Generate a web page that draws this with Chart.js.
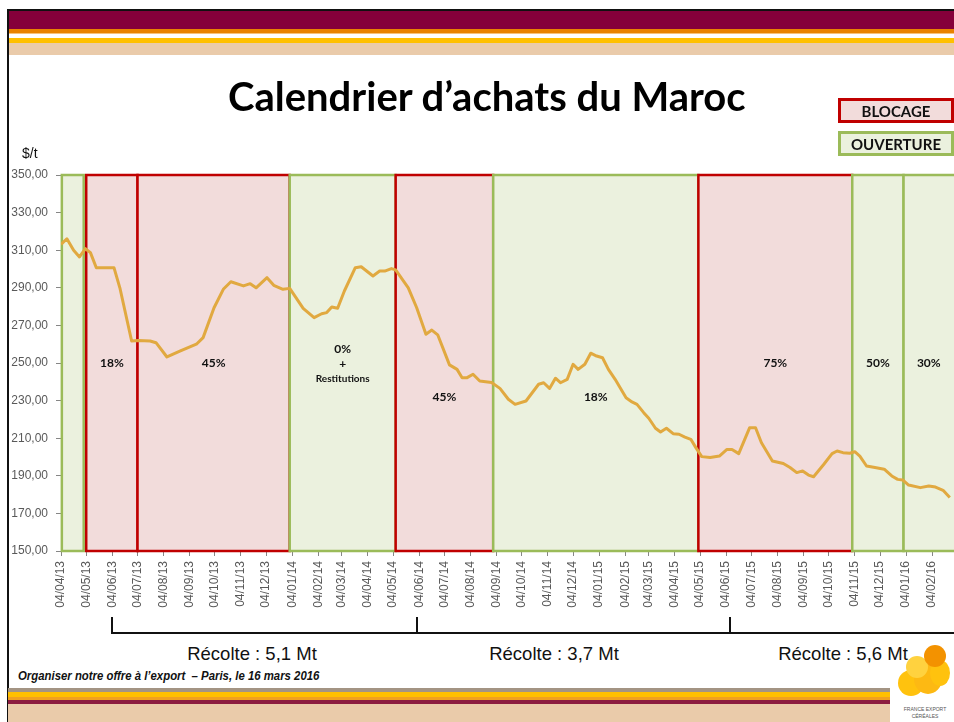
<!DOCTYPE html>
<html><head><meta charset="utf-8">
<script src="https://cdn.jsdelivr.net/npm/chart.js@4/dist/chart.umd.min.js"></script>
<style>
html,body{margin:0;padding:0;background:#fff;width:954px;height:722px;overflow:hidden;}
body{position:relative;font-family:"Liberation Sans",Arial,sans-serif;}
.abs{position:absolute;}
#c{position:absolute;left:0;top:0;}
.band{position:absolute;left:8px;}
.leg{position:absolute;left:838px;width:116px;box-sizing:border-box;display:flex;align-items:center;justify-content:center;font-family:Lato,sans-serif;font-weight:bold;font-size:15px;color:#111;}
.rec{position:absolute;top:643px;font-size:18.5px;color:#111;white-space:nowrap;transform:translateX(-50%);}
.dot{position:absolute;border-radius:50%;}
</style></head><body>
<!-- top banner -->
<div class="band" style="top:9px;width:946px;height:2px;background:#111;"></div>
<div class="band" style="top:11px;width:946px;height:18px;background:#85003A;"></div>
<div class="band" style="top:29px;width:946px;height:4px;background:#E98300;"></div>
<div class="band" style="top:33px;width:946px;height:1px;background:#F6C27A;"></div>
<div class="band" style="top:38px;width:946px;height:5px;background:#FFC000;"></div>
<div class="band" style="top:43px;width:946px;height:12px;background:#EACBAA;"></div>
<div class="abs" style="left:7px;top:9px;width:2px;height:713px;background:#111;"></div>

<canvas id="c" width="954" height="616"></canvas>

<div class="abs" style="left:228px;top:72px;line-height:48px;font-family:Lato,sans-serif;font-weight:bold;font-size:40px;color:#000;white-space:nowrap;">Calendrier d’achats du Maroc</div>
<div class="leg" style="top:98px;height:25px;background:#F2DCDB;border:3px solid #C00000;">BLOCAGE</div>
<div class="leg" style="top:131px;height:25px;background:#EBF1DE;border:3px solid #9BBB59;">OUVERTURE</div>
<div class="abs" style="left:22px;top:145px;font-size:14px;color:#111;">$/t</div>

<!-- harvest bracket -->
<div class="abs" style="left:111px;top:632px;width:843px;height:2px;background:#111;"></div>
<div class="abs" style="left:111px;top:617px;width:2px;height:17px;background:#111;"></div>
<div class="abs" style="left:416px;top:617px;width:2px;height:17px;background:#111;"></div>
<div class="abs" style="left:729px;top:617px;width:2px;height:17px;background:#111;"></div>
<div class="rec" style="left:252px;">Récolte : 5,1 Mt</div>
<div class="rec" style="left:554px;">Récolte : 3,7 Mt</div>
<div class="rec" style="left:843px;">Récolte : 5,6 Mt</div>

<div class="abs" style="left:18px;top:669px;font-family:'Liberation Sans Narrow','Arial Narrow',sans-serif;font-style:italic;font-weight:bold;font-size:12.5px;color:#111;white-space:nowrap;transform:scaleX(0.91);transform-origin:0 0;">Organiser notre offre à l’export &nbsp;– Paris, le 16 mars 2016</div>

<!-- bottom bands -->
<div class="band" style="top:688px;width:882px;height:4px;background:#A39483;"></div>
<div class="band" style="top:692px;width:882px;height:5px;background:#FFC000;"></div>
<div class="band" style="top:697px;width:882px;height:3px;background:#F0A020;"></div>
<div class="band" style="top:700px;width:882px;height:4px;background:#8C1D40;"></div>
<div class="band" style="top:704px;width:882px;height:18px;background:#EACBAA;"></div>

<!-- logo -->
<div class="dot" style="left:898px;top:670px;width:26px;height:26px;background:#FFC20E;"></div>
<div class="dot" style="left:914px;top:664px;width:28px;height:30px;background:#FDB913;"></div>
<div class="dot" style="left:930px;top:660px;width:20px;height:26px;background:#FFC20E;"></div>
<div class="dot" style="left:906px;top:656px;width:22px;height:22px;background:#FFD23F;"></div>
<div class="dot" style="left:924px;top:645px;width:22px;height:22px;background:#F39200;"></div>
<div class="abs" style="left:900px;top:706px;width:50px;text-align:center;font-size:5px;line-height:7px;color:#555;">FRANCE EXPORT<br>CÉRÉALES</div>

<script>
// ---- data ----
const tickLabels = ['04/04/13','04/05/13','04/06/13','04/07/13','04/08/13','04/09/13','04/10/13','04/11/13','04/12/13',
  '04/01/14','04/02/14','04/03/14','04/04/14','04/05/14','04/06/14','04/07/14','04/08/14','04/09/14','04/10/14','04/11/14','04/12/14',
  '04/01/15','04/02/15','04/03/15','04/04/15','04/05/15','04/06/15','04/07/15','04/08/15','04/09/15','04/10/15','04/11/15','04/12/15',
  '04/01/16','04/02/16'];
// days since 04/04/2013
const priceDays = [0,7,15,22,29,35,42,63,70,84,92,106,113,126,142,161,169,182,193,202,217,225,232,245,253,264,272,
  288,301,310,316,322,329,337,350,357,371,379,385,393,398,413,423,434,441,448,462,471,477,483,490,498,512,522,532,540,553,
  568,574,581,588,594,602,609,615,623,630,637,644,651,659,672,679,685,693,699,707,713,720,728,735,742,749,755,762,772,783,
  792,798,806,819,826,833,846,859,867,875,882,889,895,907,917,923,930,938,944,950,958,968,979,988,995,1001,1008,1022,1032,1040,1049,1057];
const priceValues = [313.1,316.1,310,306.4,310.8,308.7,300.7,300.7,290,261.7,262,261.7,260.8,253.2,256.4,260,263.5,279.4,289.2,293.2,291,292.2,290,295.4,291.3,289.2,289.7,
  279.1,274.1,276.2,276.8,279.8,279.1,288.3,300.7,301.2,296.3,298.9,298.9,300.2,299.5,290,279.4,265.3,267.5,265,249,246.6,242.2,242.2,244,240.4,239.6,236.5,230.7,228,229.8,
  238.7,239.5,236.5,241.9,239.5,241.3,249.3,246.6,249.3,255.2,253.7,252.8,246.6,241.3,231.5,229.3,228,223.6,220.6,215.3,213.3,215.3,212.4,212.1,210.6,209.4,205,200.2,199.7,200.5,
  204,204,201.8,215.6,215.6,207.6,197.9,196.5,194.4,191.7,192.6,190.4,189.5,196,201.8,203.2,202.3,202,202.8,200.5,195.2,194.4,193.5,189.9,188.1,187.8,185.1,183.7,184.6,184,182.3,178.4];
const periodTypes = ['open','block','block','open','block','open','block','open','open'];
const periodStartDays = [1,30,91,272,398,514,758,941,1002];
const periodEndDays = [27,91,272,398,514,758,941,1002,1090];
const periodLabels = [[],['18%'],['45%'],['0%','+','Restitutions'],['45%'],['18%'],['75%'],['50%'],['30%']];

// ---- helpers ----
const t0 = Date.UTC(2013,3,4);
const tickDays = tickLabels.map(s => {
  const [d,m,y] = s.split('/').map(Number);
  return Math.round((Date.UTC(2000+y, m-1, d) - t0) / 86400000);
});
const X_MAX = 1062;

const periodPlugin = {
  id: 'periods',
  beforeDatasetsDraw(chart) {
    const {ctx, chartArea: a, scales: {x, y}} = chart;
    const top = y.getPixelForValue(350), bot = y.getPixelForValue(150);
    ctx.save();
    ctx.beginPath();
    ctx.rect(a.left - 3, a.top - 3, a.right - a.left + 3, a.bottom - a.top + 6);
    ctx.clip();
    periodStartDays.forEach((s, i) => {
      const x0 = x.getPixelForValue(s), x1 = x.getPixelForValue(periodEndDays[i]);
      const blk = periodTypes[i] === 'block';
      ctx.fillStyle = blk ? '#F2DCDB' : '#EBF1DE';
      ctx.fillRect(x0, top, x1 - x0, bot - top);
      ctx.lineWidth = 2.5;
      ctx.strokeStyle = blk ? '#C00000' : '#9BBB59';
      ctx.strokeRect(x0, top, x1 - x0, bot - top);
    });
    ctx.restore();
  },
  afterDatasetsDraw(chart, args, opts) {
    const {ctx, scales: {x, y}} = chart;
    ctx.save();
    ctx.fillStyle = '#111';
    ctx.textAlign = 'center';
    ctx.textBaseline = 'middle';
    periodLabels.forEach((lines, i) => {
      if (!lines.length) return;
      const mid = (periodStartDays[i] + Math.min(periodEndDays[i], X_MAX)) / 2;
      const px = x.getPixelForValue(mid);
      const py = y.getPixelForValue(opts.levels[i]);
      lines.forEach((t, k) => {
        ctx.font = (k === 2 ? 'bold 10px' : 'bold 12px') + ' Lato, sans-serif';
        ctx.fillText(t, px, py + k * 15);
      });
    });
    ctx.restore();
  }
};

new Chart(document.getElementById('c'), {
  type: 'line',
  data: {
    datasets: [{
      data: priceDays.map((d, i) => ({x: d, y: priceValues[i]})),
      borderColor: '#E1A940',
      borderWidth: 3,
      pointRadius: 0,
      tension: 0,
      fill: false,
      borderJoinStyle: 'round'
    }]
  },
  options: {
    responsive: false,
    animation: false,
    devicePixelRatio: 1,
    layout: {padding: {top: 175, right: 0, bottom: 0, left: 0}},
    plugins: {
      legend: {display: false},
      tooltip: {enabled: false},
      periods: {levels: [250, 250, 250, 257.6, 232, 232, 250, 250, 250]}
    },
    scales: {
      x: {
        type: 'linear', min: 0, max: X_MAX,
        border: {color: '#868686', width: 1},
        grid: {drawOnChartArea: false, tickLength: 5, color: '#868686'},
        afterBuildTicks: s => { s.ticks = tickDays.map(v => ({value: v})); },
        afterFit: s => { s.height = 65; },
        ticks: {
          autoSkip: false, maxRotation: 90, minRotation: 90, padding: 5,
          color: '#595959', font: {family: 'Liberation Sans', size: 12},
          callback: (v, i) => tickLabels[i]
        }
      },
      y: {
        type: 'linear', min: 150, max: 350,
        border: {color: '#868686', width: 1},
        grid: {drawOnChartArea: false, tickLength: 5, color: '#868686'},
        afterFit: s => { s.width = 61; },
        ticks: {
          stepSize: 20, padding: 8,
          color: '#595959', font: {family: 'Liberation Sans', size: 12},
          callback: v => v.toFixed(2).replace('.', ',')
        }
      }
    }
  },
  plugins: [periodPlugin]
});
</script>
</body></html>
